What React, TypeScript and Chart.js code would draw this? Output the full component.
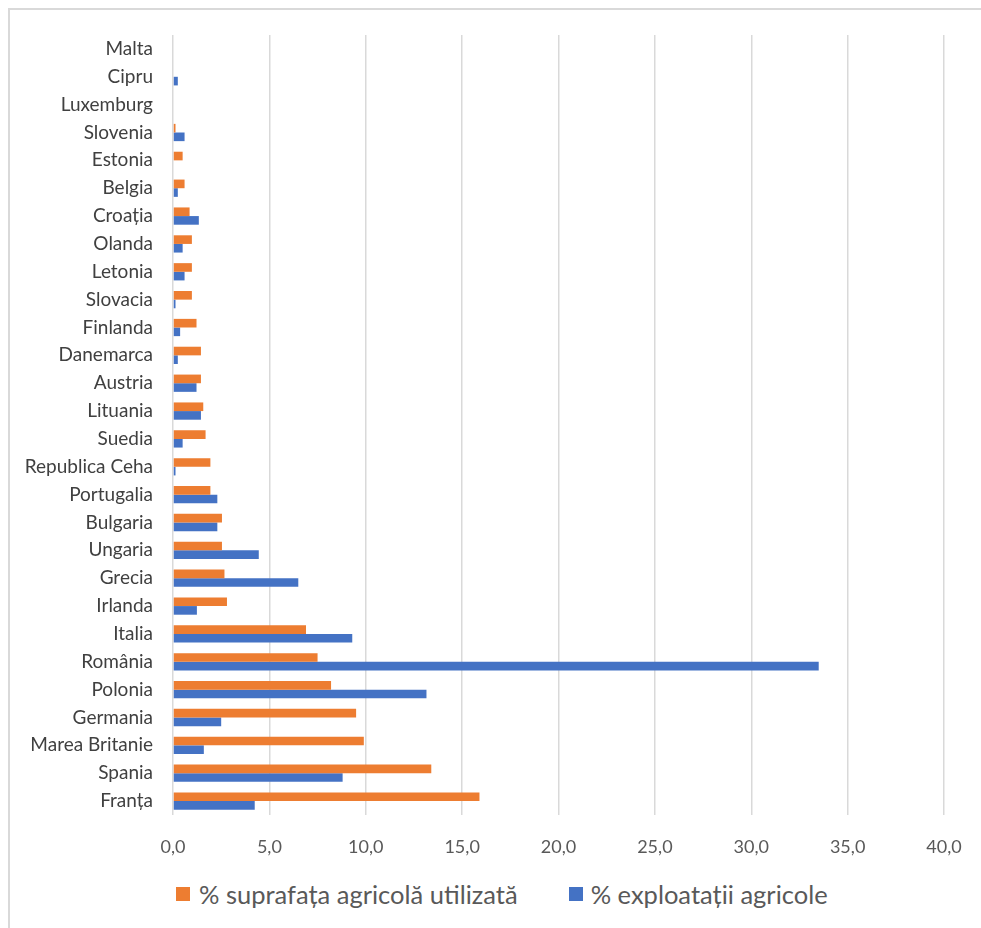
import React, { useEffect, useRef } from "react";
import { Chart, registerables } from "chart.js";

Chart.register(...registerables);

const categories: string[] = [
  "Malta", "Cipru", "Luxemburg", "Slovenia", "Estonia", "Belgia", "Croația",
  "Olanda", "Letonia", "Slovacia", "Finlanda", "Danemarca", "Austria", "Lituania",
  "Suedia", "Republica Ceha", "Portugalia", "Bulgaria", "Ungaria", "Grecia",
  "Irlanda", "Italia", "România", "Polonia", "Germania", "Marea Britanie",
  "Spania", "Franța",
];

const suprafataValues: number[] = [
  0, 0, 0, 0.13, 0.5, 0.6, 0.86,
  0.98, 0.98, 0.98, 1.22, 1.45, 1.45, 1.57,
  1.69, 1.94, 1.94, 2.54, 2.54, 2.67,
  2.8, 6.9, 7.5, 8.2, 9.5, 9.9,
  13.4, 15.9,
];

const exploatatiiValues: number[] = [
  0, 0.25, 0, 0.6, 0, 0.25, 1.34,
  0.5, 0.6, 0.13, 0.37, 0.25, 1.22, 1.45,
  0.5, 0.13, 2.3, 2.3, 4.45, 6.5,
  1.24, 9.3, 33.5, 13.15, 2.5, 1.6,
  8.8, 4.24,
];

const xTickLabels: string[] = ["0,0", "5,0", "10,0", "15,0", "20,0", "25,0", "30,0", "35,0", "40,0"];

const seriesNames: string[] = ["% suprafața agricolă utilizată", "% exploatații agricole"];
const seriesColors: string[] = ["#ED7D31", "#4472C4"];

const FONT = "Lato, 'Open Sans', sans-serif";

export default function App() {
  const canvasRef = useRef<HTMLCanvasElement | null>(null);

  useEffect(() => {
    const canvas = canvasRef.current;
    if (!canvas) return;
    const chart = new Chart(canvas, {
      type: "bar",
      data: {
        labels: categories,
        datasets: [
          {
            label: seriesNames[0],
            data: suprafataValues,
            backgroundColor: seriesColors[0],
            categoryPercentage: 0.62,
            barPercentage: 1,
          },
          {
            label: seriesNames[1],
            data: exploatatiiValues,
            backgroundColor: seriesColors[1],
            categoryPercentage: 0.62,
            barPercentage: 1,
          },
        ],
      },
      options: {
        indexAxis: "y",
        animation: false,
        responsive: false,
        devicePixelRatio: 1,
        layout: { padding: { left: 0, right: 26, top: 25, bottom: 0 } },
        plugins: {
          legend: { display: false },
          tooltip: { enabled: false },
        },
        scales: {
          x: {
            min: 0,
            max: 40,
            ticks: {
              stepSize: 5,
              padding: 21,
              color: "#595959",
              font: { family: FONT, size: 18 },
              callback: (_v: any, i: number) => xTickLabels[i],
            },
            grid: { color: "#d9d9d9", lineWidth: 1.5, drawTicks: false },
            border: { display: false },
            afterFit: (s: any) => {
              s.height = 55;
              s.paddingLeft = 0;
              s.paddingRight = 0;
            },
          },
          y: {
            ticks: {
              padding: 20,
              color: "#404040",
              font: { family: FONT, size: 19 },
              autoSkip: false,
            },
            grid: { display: false, drawTicks: false },
            border: { display: false },
            afterFit: (s: any) => {
              s.width = 163;
              s.paddingTop = 0;
              s.paddingBottom = 0;
            },
          },
        },
      },
    });
    return () => chart.destroy();
  }, []);

  return (
    <div
      style={{
        position: "fixed",
        left: 8,
        top: 8,
        width: 990,
        height: 940,
        boxSizing: "border-box",
        borderTop: "2px solid #d9d9d9",
        borderLeft: "2px solid #d9d9d9",
        background: "#ffffff",
        fontFamily: FONT,
      }}
    >
      <canvas
        ref={canvasRef}
        width={960}
        height={860}
        style={{ position: "absolute", left: 0, top: 0, width: 960, height: 860 }}
      />
      <div
        style={{
          position: "absolute",
          left: 166,
          top: 869,
          height: 30,
          display: "flex",
          alignItems: "center",
          color: "#595959",
          fontSize: 25.5,
          whiteSpace: "nowrap",
        }}
      >
        <span style={{ width: 14, height: 14, background: seriesColors[0], display: "inline-block", marginRight: 9 }} />
        <span>{seriesNames[0]}</span>
        <span style={{ width: 14, height: 14, background: seriesColors[1], display: "inline-block", marginLeft: 51, marginRight: 8 }} />
        <span>{seriesNames[1]}</span>
      </div>
    </div>
  );
}
